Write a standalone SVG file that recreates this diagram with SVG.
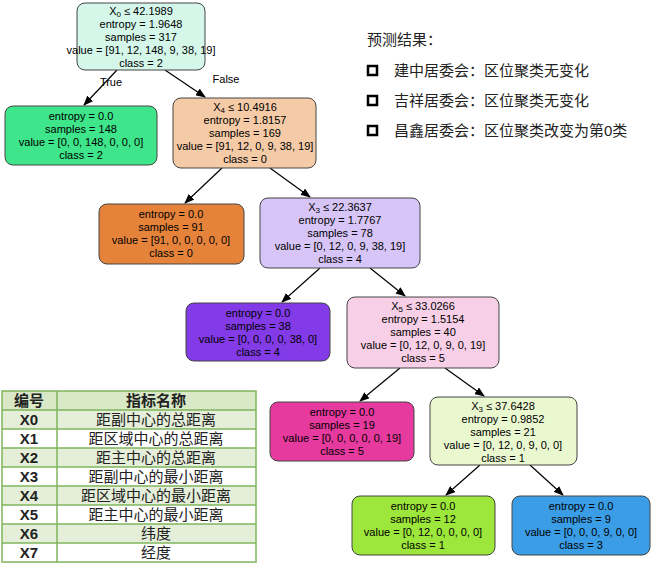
<svg xmlns="http://www.w3.org/2000/svg" width="655" height="568" viewBox="0 0 655 568">
<style>
.n{stroke:#444;stroke-width:1}
.t{font-family:"Liberation Sans",Arial,sans-serif;font-size:11px;text-anchor:middle;fill:#000}
.e{stroke:#000;stroke-width:1.2;fill:none;marker-end:url(#a)}
.c{font-family:"Liberation Sans","Noto Sans CJK SC",sans-serif;font-size:15px;fill:#222}
.tb{font-family:"Liberation Sans","Noto Sans CJK SC",sans-serif;font-size:15px;text-anchor:middle;fill:#222}
.tl{stroke:#7fb55c;stroke-width:1.5}
</style>
<defs><marker id="a" markerWidth="10" markerHeight="8" refX="9" refY="4" orient="auto" markerUnits="userSpaceOnUse"><path d="M0,0L10,4L0,8z" fill="#000"/></marker></defs>
<rect width="655" height="568" fill="#fff"/>
<g id="edges">
<line class="e" x1="117" y1="70" x2="84" y2="105"/>
<line class="e" x1="165" y1="70" x2="205" y2="97"/>
<line class="e" x1="222" y1="168" x2="185" y2="203"/>
<line class="e" x1="270" y1="168" x2="310" y2="197"/>
<line class="e" x1="320" y1="268" x2="282" y2="302"/>
<line class="e" x1="370" y1="268" x2="405" y2="296"/>
<line class="e" x1="400" y1="368" x2="360" y2="401"/>
<line class="e" x1="445" y1="368" x2="484" y2="396"/>
<line class="e" x1="480" y1="465" x2="446" y2="495"/>
<line class="e" x1="530" y1="465" x2="563" y2="495"/>
<text class="t" x="111" y="86">True</text>
<text class="t" x="226" y="83">False</text>
</g>
<g id="n0"><rect class="n" x="77" y="3" width="128" height="67" rx="8" fill="#d4f7ea"/>
<text class="t" x="141" y="15">X<tspan font-size="8" dy="2">0</tspan><tspan dy="-2"> ≤ 42.1989</tspan></text>
<text class="t" x="141" y="28">entropy = 1.9648</text><text class="t" x="141" y="41">samples = 317</text>
<text class="t" x="141" y="54">value = [91, 12, 148, 9, 38, 19]</text><text class="t" x="141" y="67">class = 2</text></g>
<g id="n1"><rect class="n" x="5" y="106" width="152" height="59" rx="8" fill="#3ee58a"/>
<text class="t" x="81" y="120">entropy = 0.0</text><text class="t" x="81" y="133">samples = 148</text>
<text class="t" x="81" y="146">value = [0, 0, 148, 0, 0, 0]</text><text class="t" x="81" y="159">class = 2</text></g>
<g id="n2"><rect class="n" x="173" y="98" width="143" height="70" rx="8" fill="#f5caa6"/>
<text class="t" x="245" y="111">X<tspan font-size="8" dy="2">4</tspan><tspan dy="-2"> ≤ 10.4916</tspan></text>
<text class="t" x="245" y="124">entropy = 1.8157</text><text class="t" x="245" y="137">samples = 169</text>
<text class="t" x="245" y="150">value = [91, 12, 0, 9, 38, 19]</text><text class="t" x="245" y="163">class = 0</text></g>
<g id="n3"><rect class="n" x="99" y="204" width="145" height="60" rx="8" fill="#e6833b"/>
<text class="t" x="171" y="218">entropy = 0.0</text><text class="t" x="171" y="231">samples = 91</text>
<text class="t" x="171" y="244">value = [91, 0, 0, 0, 0, 0]</text><text class="t" x="171" y="257">class = 0</text></g>
<g id="n4"><rect class="n" x="260" y="198" width="160" height="70" rx="8" fill="#d7c5f7"/>
<text class="t" x="340" y="211">X<tspan font-size="8" dy="2">3</tspan><tspan dy="-2"> ≤ 22.3637</tspan></text>
<text class="t" x="340" y="224">entropy = 1.7767</text><text class="t" x="340" y="237">samples = 78</text>
<text class="t" x="340" y="250">value = [0, 12, 0, 9, 38, 19]</text><text class="t" x="340" y="263">class = 4</text></g>
<g id="n5"><rect class="n" x="186" y="303" width="144" height="58" rx="8" fill="#823be6"/>
<text class="t" x="258" y="317">entropy = 0.0</text><text class="t" x="258" y="330">samples = 38</text>
<text class="t" x="258" y="343">value = [0, 0, 0, 0, 38, 0]</text><text class="t" x="258" y="356">class = 4</text></g>
<g id="n6"><rect class="n" x="347" y="297" width="152" height="71" rx="8" fill="#f7cfe6"/>
<text class="t" x="423" y="310">X<tspan font-size="8" dy="2">5</tspan><tspan dy="-2"> ≤ 33.0266</tspan></text>
<text class="t" x="423" y="323">entropy = 1.5154</text><text class="t" x="423" y="336">samples = 40</text>
<text class="t" x="423" y="349">value = [0, 12, 0, 9, 0, 19]</text><text class="t" x="423" y="362">class = 5</text></g>
<g id="n7"><rect class="n" x="270" y="402" width="144" height="59" rx="8" fill="#e63a9e"/>
<text class="t" x="342" y="416">entropy = 0.0</text><text class="t" x="342" y="429">samples = 19</text>
<text class="t" x="342" y="442">value = [0, 0, 0, 0, 0, 19]</text><text class="t" x="342" y="455">class = 5</text></g>
<g id="n8"><rect class="n" x="430" y="397" width="147" height="68" rx="8" fill="#eaf8d0"/>
<text class="t" x="503" y="410">X<tspan font-size="8" dy="2">3</tspan><tspan dy="-2"> ≤ 37.6428</tspan></text>
<text class="t" x="503" y="423">entropy = 0.9852</text><text class="t" x="503" y="436">samples = 21</text>
<text class="t" x="503" y="449">value = [0, 12, 0, 9, 0, 0]</text><text class="t" x="503" y="462">class = 1</text></g>
<g id="n9"><rect class="n" x="352" y="496" width="143" height="59" rx="8" fill="#9de63b"/>
<text class="t" x="423" y="510">entropy = 0.0</text><text class="t" x="423" y="523">samples = 12</text>
<text class="t" x="423" y="536">value = [0, 12, 0, 0, 0, 0]</text><text class="t" x="423" y="549">class = 1</text></g>
<g id="n10"><rect class="n" x="512" y="496" width="138" height="59" rx="8" fill="#3b9de6"/>
<text class="t" x="581" y="510">entropy = 0.0</text><text class="t" x="581" y="523">samples = 9</text>
<text class="t" x="581" y="536">value = [0, 0, 0, 9, 0, 0]</text><text class="t" x="581" y="549">class = 3</text></g>
<g id="legend">
<text class="c" x="367" y="45">预测结果：</text>
<rect x="368" y="66" width="9" height="9" fill="none" stroke="#000" stroke-width="2.5"/>
<rect x="368" y="96" width="9" height="9" fill="none" stroke="#000" stroke-width="2.5"/>
<rect x="368" y="126" width="9" height="9" fill="none" stroke="#000" stroke-width="2.5"/>
<text class="c" x="394" y="76">建中居委会：区位聚类无变化</text>
<text class="c" x="394" y="106">吉祥居委会：区位聚类无变化</text>
<text class="c" x="394" y="136">昌鑫居委会：区位聚类改变为第0类</text>
</g>
<g id="table">
<rect x="2" y="391" width="254" height="19" fill="#d9e8c6"/>
<rect x="2" y="410" width="254" height="19" fill="#e4eed8"/>
<rect x="2" y="448" width="254" height="19" fill="#e4eed8"/>
<rect x="2" y="486" width="254" height="19" fill="#e4eed8"/>
<rect x="2" y="524" width="254" height="19" fill="#e4eed8"/>
<rect x="2" y="391" width="254" height="171" fill="none" class="tl"/>
<g class="tl"><line x1="57" y1="391" x2="57" y2="562"/>
<line x1="2" y1="410" x2="256" y2="410"/><line x1="2" y1="429" x2="256" y2="429"/><line x1="2" y1="448" x2="256" y2="448"/><line x1="2" y1="467" x2="256" y2="467"/><line x1="2" y1="486" x2="256" y2="486"/><line x1="2" y1="505" x2="256" y2="505"/><line x1="2" y1="524" x2="256" y2="524"/><line x1="2" y1="543" x2="256" y2="543"/></g>
<g class="tb" font-weight="bold"><text x="29" y="406">编号</text><text x="156" y="406">指标名称</text>
<text x="29" y="425">X0</text><text x="29" y="444">X1</text><text x="29" y="463">X2</text><text x="29" y="482">X3</text><text x="29" y="501">X4</text><text x="29" y="520">X5</text><text x="29" y="539">X6</text><text x="29" y="558">X7</text></g>
<g class="tb"><text x="156" y="425">距副中心的总距离</text><text x="156" y="444">距区域中心的总距离</text><text x="156" y="463">距主中心的总距离</text><text x="156" y="482">距副中心的最小距离</text><text x="156" y="501">距区域中心的最小距离</text><text x="156" y="520">距主中心的最小距离</text><text x="156" y="539">纬度</text><text x="156" y="558">经度</text></g>
</g>
</svg>
